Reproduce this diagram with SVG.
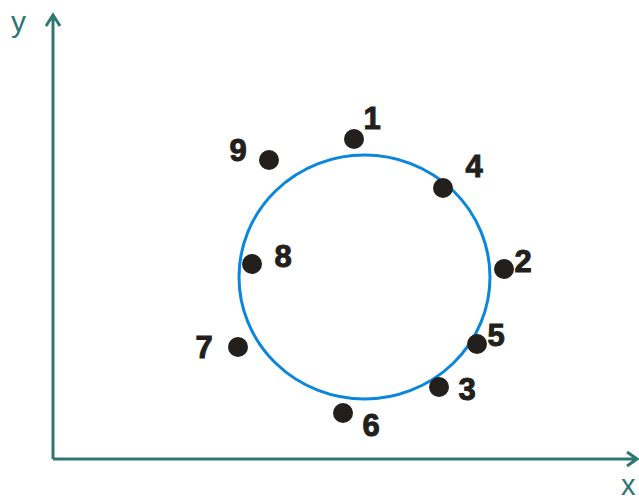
<svg xmlns="http://www.w3.org/2000/svg" width="639" height="502" viewBox="0 0 639 502">
<style>
.ax{stroke:#2e7770;stroke-width:3;fill:none;stroke-linecap:butt}
.axl{font-family:"Liberation Sans",Arial,sans-serif;font-size:30px;fill:#2e7770}
.pt{fill:#231f1c}
.lb{font-family:"Liberation Sans",Arial,sans-serif;font-size:31px;font-weight:bold;fill:#231f1c;stroke:#231f1c;stroke-width:1;text-anchor:middle}
</style>
<rect width="639" height="502" fill="#ffffff"/>
<g id="axes">
<path class="ax" d="M53,459 V15 M46,26 L53,15 L60,26"/>
<path class="ax" d="M53,459 H637 M627,452 L637,459 L627,466"/>
<text class="axl" x="11" y="32">y</text>
<text class="axl" x="621" y="495" style="font-size:29px">x</text>
</g>
<g id="circle">
<ellipse cx="364.5" cy="277" rx="125.5" ry="122" fill="none" stroke="#0a86dc" stroke-width="3"/>
</g>
<g id="p1"><circle class="pt" cx="354" cy="139" r="10"/><text class="lb" x="372" y="129">1</text></g>
<g id="p2"><circle class="pt" cx="504" cy="269" r="10"/><text class="lb" x="523" y="272">2</text></g>
<g id="p3"><circle class="pt" cx="439" cy="387" r="10"/><text class="lb" x="467" y="400">3</text></g>
<g id="p4"><circle class="pt" cx="443" cy="188" r="10"/><text class="lb" x="474" y="177">4</text></g>
<g id="p5"><circle class="pt" cx="477" cy="344" r="10"/><text class="lb" x="496" y="346">5</text></g>
<g id="p6"><circle class="pt" cx="343" cy="413" r="10"/><text class="lb" x="371" y="436">6</text></g>
<g id="p7"><circle class="pt" cx="238" cy="347" r="10"/><text class="lb" x="204" y="358">7</text></g>
<g id="p8"><circle class="pt" cx="252" cy="264" r="10"/><text class="lb" x="283" y="267">8</text></g>
<g id="p9"><circle class="pt" cx="269" cy="160" r="10"/><text class="lb" x="238" y="161">9</text></g>
</svg>
